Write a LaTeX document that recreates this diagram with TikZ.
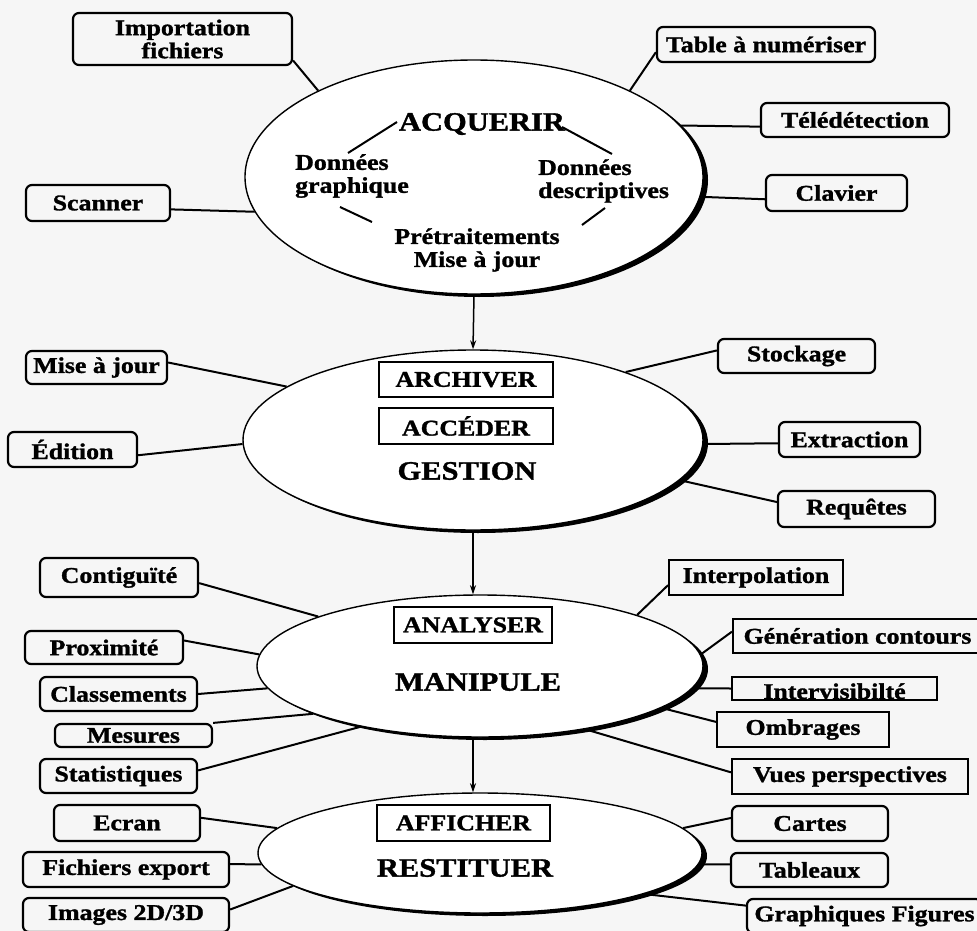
\documentclass[tikz,border=0pt]{standalone}
\usepackage{fontspec}
\setmainfont{Liberation Serif}
\newfontfamily\dfont[FakeStretch=1.15, BoldFeatures={FakeBold=1.3}]{Liberation Serif}
\usetikzlibrary{shapes.geometric,arrows.meta,shadows}
\begin{document}
\begin{tikzpicture}[x=1pt,y=-1pt,
  lbl/.style={font={\dfont\bfseries\fontsize{22.5}{23}\selectfont}, align=center, inner sep=0pt},
  title/.style={font={\dfont\bfseries\fontsize{26.5}{27}\selectfont}, inner sep=0pt},
  rbox/.style={draw, line width=2.2pt, rounded corners=6pt, lbl},
  sbox/.style={draw, line width=2pt, lbl},
  hub/.style={ellipse, draw, line width=1.4pt, fill=white, inner sep=0pt,
    drop shadow={shadow xshift=5pt, shadow yshift=-3pt, fill=black, opacity=1}},
  link/.style={line width=2pt},
  tick/.style={line width=2pt},
  flow/.style={line width=1.5pt, -{Stealth[length=9pt,width=6pt]}}]
\fill[gray!7] (0,0) rectangle (977,931);
\useasboundingbox (0,0) rectangle (977,931);

% ---------- ACQUERIR ----------
\node[hub, minimum width=458pt, minimum height=234pt] (e1) at (474,177) {};
\node[title] (acq) at (482,124) {ACQUERIR};
\node[lbl, align=left, anchor=west] (dg) at (295,176) {Données\\graphique};
\node[lbl, align=left, anchor=west] (dd) at (538,181) {Données\\descriptives};
\node[lbl] (pre) at (477,250) {Prétraitements\\Mise à jour};
\coordinate (t1a) at (397,122); \coordinate (t1b) at (348,153);
\coordinate (t2a) at (562,127); \coordinate (t2b) at (612,154);
\coordinate (t3a) at (340,207); \coordinate (t3b) at (372,222);
\coordinate (t4a) at (605,208); \coordinate (t4b) at (582,225);
\draw[tick] (t1a) -- (t1b);
\draw[tick] (t2a) -- (t2b);
\draw[tick] (t3a) -- (t3b);
\draw[tick] (t4a) -- (t4b);

\node[rbox, minimum width=219pt, minimum height=52pt] (imp) at (182.5,39) {Importation\\fichiers};
\node[rbox, minimum width=218pt, minimum height=35pt] (tab) at (766,44.5) {Table à numériser};
\node[rbox, minimum width=188pt, minimum height=34pt] (tel) at (855,120) {Télédétection};
\node[rbox, minimum width=141pt, minimum height=36pt] (clav) at (836.5,193) {Clavier};
\node[rbox, minimum width=144pt, minimum height=36pt] (scan) at (98,203) {Scanner};
\draw[link] (imp.-11) -- (e1.151);
\draw[link] (tab.184) -- (e1.29);
\draw[link] (tel.184) -- (e1.14);
\draw[link] (clav.185) -- (e1.-5);
\draw[link] (scan.-5) -- (e1.189);

% ---------- GESTION ----------
\node[hub, minimum width=460pt, minimum height=180pt] (e2) at (473,440) {};
\node[sbox, minimum width=174pt, minimum height=35pt] (arch) at (466,379.5) {ARCHIVER};
\node[sbox, minimum width=174pt, minimum height=36pt] (acc) at (466,426) {ACCÉDER};
\node[title] (ges) at (467,471) {GESTION};

\node[rbox, minimum width=141pt, minimum height=33pt] (maj) at (96.5,367.5) {Mise à jour};
\node[rbox, minimum width=129pt, minimum height=35pt] (edi) at (72.5,449.5) {Édition};
\node[rbox, minimum width=157pt, minimum height=34pt] (sto) at (796.5,356) {Stockage};
\node[rbox, minimum width=141pt, minimum height=35pt] (ext) at (849.5,439.5) {Extraction};
\node[rbox, minimum width=157pt, minimum height=36pt] (req) at (856.5,509) {Requêtes};
\draw[link] (maj.4) -- (e2.164);
\draw[link] (edi.-5) -- (e2.181);
\draw[link] (sto.176) -- (e2.24);
\draw[link] (ext.183) -- (e2.-1);
\draw[link] (req.175) -- (e2.-11);

% ---------- MANIPULE ----------
\node[hub, minimum width=446pt, minimum height=142pt] (e3) at (480,666) {};
\node[sbox, minimum width=158pt, minimum height=36pt] (anal) at (473,625) {ANALYSER};
\node[title] (man) at (478,682) {MANIPULE};

\node[rbox, minimum width=158pt, minimum height=39pt] (cont) at (119,577.5) {Contiguïté};
\node[rbox, minimum width=158pt, minimum height=33pt] (prox) at (104,647.5) {Proximité};
\node[rbox, minimum width=157pt, minimum height=34pt] (class) at (118.5,694) {Classements};
\node[rbox, minimum width=157pt, minimum height=23pt] (mes) at (133.5,735.5) {Mesures};
\node[rbox, minimum width=157pt, minimum height=34pt] (stat) at (118.5,776) {Statistiques};
\node[sbox, minimum width=174pt, minimum height=35pt] (interp) at (756,577.5) {Interpolation};
\node[sbox, minimum width=249pt, minimum height=34pt] (gen) at (857.5,636) {Génération contours};
\node[sbox, minimum width=205pt, minimum height=23pt] (intv) at (834.5,688.5) {};
\node[lbl, anchor=base] (intvT) at (834.5,699) {Intervisibilté};
\node[sbox, minimum width=172pt, minimum height=35pt] (omb) at (803,729.5) {Ombrages};
\node[sbox, minimum width=236pt, minimum height=35pt] (vues) at (850,776.5) {Vues perspectives};
\draw[link] (cont.-4) -- (e3.163);
\draw[link] (prox.5) -- (e3.177);
\draw[link] (class.east) -- (e3.-174);
\draw[link] (mes.north east) -- (e3.-164);
\draw[link] (stat.4) -- (e3.-153);
\draw[link] (interp.185) -- (e3.18);
\draw[link] (gen.178) -- (e3.3);
\draw[link] (intv.west) -- (e3.-6);
\draw[link] (omb.175) -- (e3.-13);
\draw[link] (vues.178) -- (e3.-31);

% ---------- RESTITUER ----------
\node[hub, minimum width=444pt, minimum height=120pt] (e4) at (480,853) {};
\node[sbox, minimum width=173pt, minimum height=36pt] (aff) at (463.5,823) {AFFICHER};
\node[title] (res) at (465,868) {RESTITUER};

\node[rbox, minimum width=146pt, minimum height=36pt] (ecran) at (127,823) {Ecran};
\node[rbox, minimum width=206pt, minimum height=35pt] (fich) at (126,869.5) {Fichiers export};
\node[rbox, minimum width=206pt, minimum height=34pt] (img) at (126,915) {Images 2D/3D};
\node[rbox, minimum width=156pt, minimum height=35pt] (cart) at (810,823.5) {Cartes};
\node[rbox, minimum width=157pt, minimum height=34pt] (tabx) at (809.5,870) {Tableaux};
\node[rbox, minimum width=235pt, minimum height=34pt] (graph) at (864.5,916) {Graphiques Figures};
\draw[link] (ecran.4) -- (e4.173);
\draw[link] (fich.3) -- (e4.183);
\draw[link] (img.3) -- (e4.190);
\draw[link] (cart.176) -- (e4.7);
\draw[link] (tabx.176) -- (e4.-3);
\draw[link] (graph.175) -- (e4.-14);

% ---------- flow between stages ----------
\draw[flow] (e1.south) -- (e2.north);
\draw[flow] (e2.south) -- (e3.north -| e2.south);
\draw[flow] (e3.south -| e2.south) -- (e4.north -| e2.south);
\end{tikzpicture}
\end{document}
